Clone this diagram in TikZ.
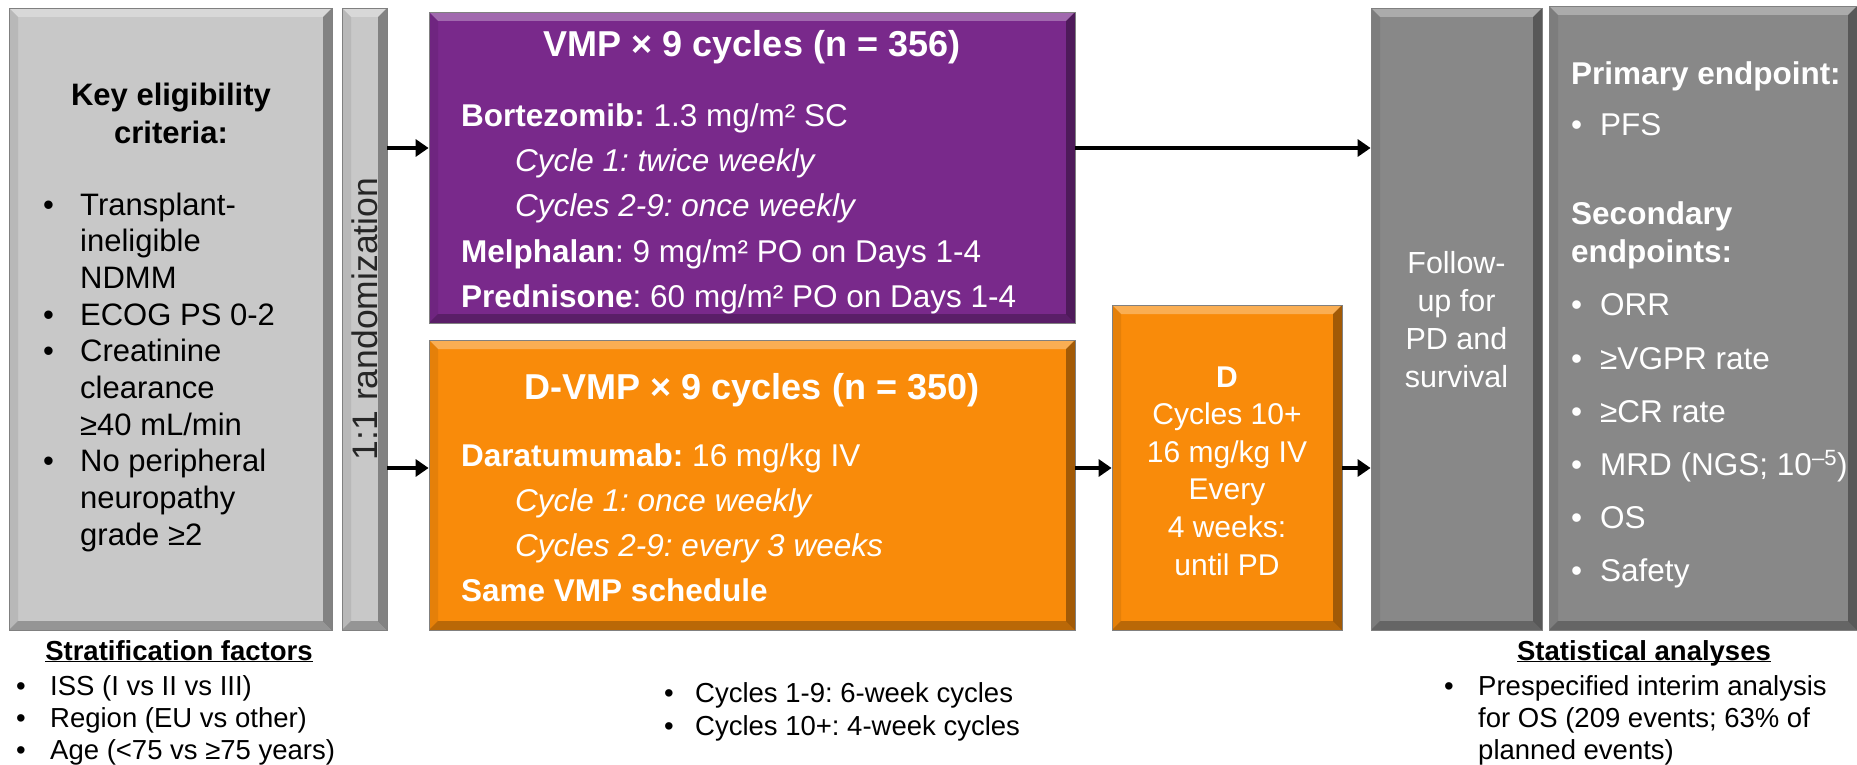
\documentclass[tikz,border=0pt]{standalone}
\usepackage{fontspec}
\setmainfont{Liberation Sans}
\usetikzlibrary{positioning, arrows.meta, calc}

\definecolor{lightbox}{RGB}{200,200,200}
\definecolor{vmpcol}{RGB}{121,41,139}
\definecolor{dvmpcol}{RGB}{249,139,10}
\definecolor{darkbox}{RGB}{136,136,136}

\begin{document}
\frenchspacing
\begin{tikzpicture}[x=1pt, y=-1pt, >={Triangle[length=13pt, width=17pt]},
	bevel/.style={path picture={
		\fill[white, opacity=0.3] (path picture bounding box.north west) -- (path picture bounding box.north east)
			-- ([shift={(-9pt,-9pt)}]path picture bounding box.north east) -- ([shift={(9pt,-9pt)}]path picture bounding box.north west) -- cycle;
		\fill[black, opacity=0.35] (path picture bounding box.north east) -- (path picture bounding box.south east)
			-- ([shift={(-9pt,9pt)}]path picture bounding box.south east) -- ([shift={(-9pt,-9pt)}]path picture bounding box.north east) -- cycle;
		\fill[black, opacity=0.25] (path picture bounding box.south west) -- (path picture bounding box.south east)
			-- ([shift={(-9pt,9pt)}]path picture bounding box.south east) -- ([shift={(9pt,9pt)}]path picture bounding box.south west) -- cycle;
		\fill[black, opacity=0.08] (path picture bounding box.north west) -- (path picture bounding box.south west)
			-- ([shift={(9pt,9pt)}]path picture bounding box.south west) -- ([shift={(9pt,-9pt)}]path picture bounding box.north west) -- cycle;
	}},
	box/.style={rectangle, inner sep=0pt, draw=black!50, line width=0.8pt, bevel},
	flow/.style={->, line width=3.5pt},
	wtxt/.style={text=white, inner sep=0pt},
	ktxt/.style={text=black, inner sep=0pt},
	bodyfont/.style={font=\fontsize{31}{36.7}\selectfont},
	armfont/.style={font=\fontsize{31.5}{45}\selectfont},
	ttlfont/.style={font=\fontsize{36}{42}\bfseries\selectfont},
	smallfont/.style={font=\fontsize{27.5}{32}\selectfont}
]
\fill[white] (0,0) rectangle (1857,765);
\useasboundingbox (0,0) rectangle (1857,765);

% Boxes
\node[box, fill=lightbox, minimum width=323pt, minimum height=622pt] (elig) at (170.5,319) {};
\node[box, fill=lightbox, minimum width=45pt, minimum height=622pt] (rand) at (364.5,319) {};
\node[box, fill=vmpcol, minimum width=646pt, minimum height=311pt] (vmp) at (752,167.5) {};
\node[box, fill=dvmpcol, minimum width=646pt, minimum height=290pt] (dvmp) at (752,485) {};
\node[box, fill=dvmpcol, minimum width=230pt, minimum height=325pt] (dmaint) at (1227,467.5) {};
\node[box, fill=darkbox, minimum width=171pt, minimum height=622pt] (follow) at (1456.5,319) {};
\node[box, fill=darkbox, minimum width=308pt, minimum height=624pt] (endp) at (1703,318) {};

% Pfeile
\coordinate (uplane) at (0,148);
\coordinate (lowlane) at (0,468);
\draw[flow] (rand.east |- uplane) -- (vmp.west |- uplane);
\draw[flow] (vmp.east |- uplane) -- (follow.west |- uplane);
\draw[flow] (rand.east |- lowlane) -- (dvmp.west |- lowlane);
\draw[flow] (dvmp.east |- lowlane) -- (dmaint.west |- lowlane);
\draw[flow] (dmaint.east |- lowlane) -- (follow.west |- lowlane);

% Eignung
\node[ktxt, font=\fontsize{31}{38}\bfseries\selectfont, anchor=base] (eligttl) at (171,106)
	{\begin{tabular}[t]{@{}c@{}}Key eligibility\\ criteria:\end{tabular}};
\node[ktxt, bodyfont, anchor=base west] (eliglist) at (43,215)
	{\begin{tabular}[t]{@{}p{37pt}@{}l@{}}
	• & Transplant-\\ & ineligible\\ & NDMM\\
	• & ECOG PS 0-2\\
	• & Creatinine\\ & clearance\\ & ≥40 mL/min\\
	• & No peripheral\\ & neuropathy\\ & grade ≥2
	\end{tabular}};
\node[text=black!85, inner sep=0pt, rotate=90, font=\fontsize{35.5}{40}\selectfont] (randtxt) at (rand.center) {1:1 randomization};

% VMP
\node[wtxt, ttlfont, anchor=base] (vmpttl) at (752,57) {VMP × 9 cycles (n = 356)};
\node[wtxt, armfont, anchor=base west] (vmptxt) at (461,127)
	{\begin{tabular}[t]{@{}l@{}}
	\textbf{Bortezomib:} 1.3 mg/m² SC\\
	\hspace*{54pt}\textit{Cycle 1: twice weekly}\\
	\hspace*{54pt}\textit{Cycles 2-9: once weekly}\\
	\textbf{Melphalan}: 9 mg/m² PO on Days 1-4\\
	\textbf{Prednisone}: 60 mg/m² PO on Days 1-4
	\end{tabular}};

% D-VMP
\node[wtxt, ttlfont, anchor=base] (dvmpttl) at (752,399) {D-VMP × 9 cycles (n = 350)};
\node[wtxt, armfont, anchor=base west] (dvmptxt) at (461,466)
	{\begin{tabular}[t]{@{}l@{}}
	\textbf{Daratumumab:} 16 mg/kg IV\\
	\hspace*{54pt}\textit{Cycle 1: once weekly}\\
	\hspace*{54pt}\textit{Cycles 2-9: every 3 weeks}\\
	\textbf{Same VMP schedule}
	\end{tabular}};

% D allein
\node[wtxt, font=\fontsize{30}{37.6}\selectfont, anchor=base] (dmainttxt) at (1227,387)
	{\begin{tabular}[t]{@{}c@{}}\textbf{D}\\ Cycles 10+\\ 16 mg/kg IV\\ Every\\ 4 weeks:\\ until PD\end{tabular}};

% Nachbeobachtung
\node[wtxt, font=\fontsize{30.5}{38}\selectfont, anchor=base] (followtxt) at (1456.5,273)
	{\begin{tabular}[t]{@{}c@{}}Follow-\\ up for\\ PD and\\ survival\end{tabular}};

% Endpunkte
\node[wtxt, font=\fontsize{31.5}{38}\selectfont, anchor=base west] (endptxt) at (1571,85)
	{\begin{tabular}[t]{@{}p{29pt}@{}l@{}}
	\multicolumn{2}{@{}l@{}}{\textbf{Primary endpoint:}}\\[13pt]
	• & PFS\\[50pt]
	\multicolumn{2}{@{}l@{}}{\textbf{Secondary}}\\
	\multicolumn{2}{@{}l@{}}{\textbf{endpoints:}}\\[16pt]
	• & ORR\\[15pt]
	• & ≥VGPR rate\\[15pt]
	• & ≥CR rate\\[15pt]
	• & MRD (NGS; 10\textsuperscript{–5})\\[15pt]
	• & OS\\[15pt]
	• & Safety
	\end{tabular}};

% Unten
\node[ktxt, smallfont, anchor=base] (strattl) at (179,660) {\underline{\smash{\textbf{Stratification factors}}}};
\node[ktxt, smallfont, anchor=base west] (stratlist) at (16,695)
	{\begin{tabular}[t]{@{}p{34pt}@{}l@{}}
	• & ISS (I vs II vs III)\\
	• & Region (EU vs other)\\
	• & Age (<75 vs ≥75 years)
	\end{tabular}};
\node[ktxt, font=\fontsize{27.5}{33}\selectfont, anchor=base west] (cyclist) at (664,702)
	{\begin{tabular}[t]{@{}p{31pt}@{}l@{}}
	• & Cycles 1-9: 6-week cycles\\
	• & Cycles 10+: 4-week cycles
	\end{tabular}};
\node[ktxt, smallfont, anchor=base] (statttl) at (1644,660) {\underline{\smash{\textbf{Statistical analyses}}}};
\node[ktxt, smallfont, anchor=base west] (statlist) at (1444,695)
	{\begin{tabular}[t]{@{}p{34pt}@{}l@{}}
	• & Prespecified interim analysis\\
	& for OS (209 events; 63\% of\\
	& planned events)
	\end{tabular}};
\end{tikzpicture}
\end{document}
